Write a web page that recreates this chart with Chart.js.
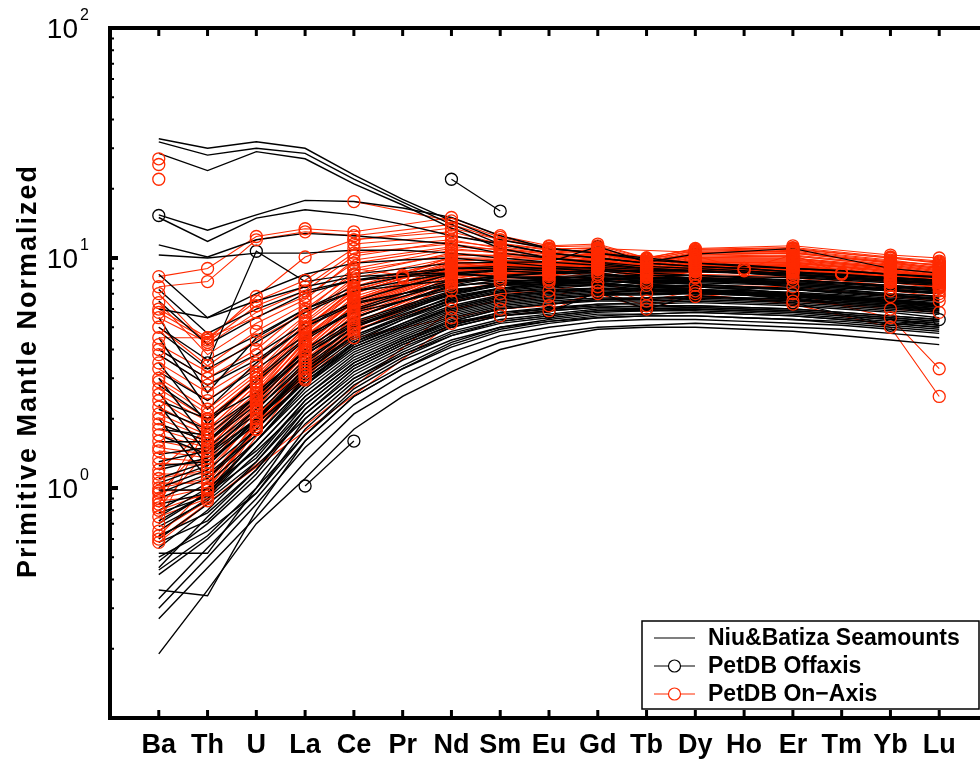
<!DOCTYPE html>
<html lang="en">
<head>
    <meta charset="UTF-8">
    <title>Primitive Mantle Normalized - Niu&amp;Batiza Seamounts vs PetDB</title>
    <script src="https://cdn.jsdelivr.net/npm/chart.js"></script>
    <style>
        html, body {
            margin: 0;
            padding: 0;
            background: #fff;
            overflow: hidden;
        }
        canvas { display: block; }
    </style>
</head>
<body>

<canvas id="spider" width="1000" height="763"></canvas>

<script>
    // element order along the x axis
    const elements = ['Ba', 'Th', 'U', 'La', 'Ce', 'Pr', 'Nd', 'Sm', 'Eu', 'Gd', 'Tb', 'Dy', 'Ho', 'Er', 'Tm', 'Yb', 'Lu'];
    const yTickValues = [1, 10, 100];
    const _ = null;

    // Niu & Batiza seamount samples (black lines, no markers)
    //            Ba    Th    U     La    Ce    Pr    Nd    Sm    Eu    Gd    Tb    Dy    Ho    Er    Tm    Yb    Lu
    const niuBatiza = [
        [33,   30,   32,   30,   23,   18,   14.5, 12,   11,   10.5, 10,   9.5,  9.3,  9,    8.8,  8.5,  8.3],
        [32,   28,   30,   28.5, 22,   17.5, 14,   11.5, 10.5, 10,   9.5,  9.2,  9,    8.7,  8.5,  8.2,  8],
        [28.5, 24,   29,   27,   21,   17,   13.5, 11,   10,   9.5,  9,    8.8,  8.6,  8.4,  8.2,  8,    7.8],
        [15.4, 13.2, 15.4, 17.8, 17.6, 16.5, 15,   12.5, 11,   10.5, 9.8,  9.5,  9.2,  9,    8.8,  8.5,  8.2],
        [15,   11.8, 14.9, 16.2, 15.4, 14,   12.5, 11.5, 10.5, 10,   9.5,  9.2,  9,    8.7,  8.4,  8.2,  8],
        [11.4, 10.1, 12,   12.8, 12.5, 12,   11.5, 10.5, 10,   9.6,  9.2,  9,    8.8,  8.5,  8.2,  8,    7.8],
        [10.3, 10,   10.5, 10.5, 10.8, 10.8, 10.5, 10,   9.6,  9.3,  9,    8.8,  8.6,  8.3,  8.1,  7.9,  7.7],
        [8.5,  5.5,  7,    8.5,  9.5,  9.8,  10,   9.6,  9.2,  9,    8.6,  8.4,  8.2,  8,    7.8,  7.5,  7.2],
        [6.5,  4.2,  5.5,  7,    8,    8.6,  9,    9,    8.8,  8.6,  8.2,  8,    7.8,  7.6,  7.4,  7.2,  7],
        [5.5,  2.6,  4.5,  6,    7.5,  8.3,  9,    9.2,  9,    8.8,  8.4,  8.2,  8,    7.8,  7.6,  7.3,  7],
        [4.8,  3.3,  4.3,  5.8,  7.2,  7.9,  8.6,  8.9,  9.0,  9.1,  8.9,  8.8,  8.6,  8.4,  8.2,  8.0,  7.7],
        [4.5,  2.2,  3.5,  5,    6.5,  7.5,  8.5,  8.8,  8.6,  8.5,  8.2,  8,    7.8,  7.5,  7.3,  7,    6.8],
        [3.5,  1.9,  3,    4.5,  6,    7,    8,    8.3,  8.2,  8.2,  7.9,  7.7,  7.5,  7.3,  7,    6.8,  6.6],
        [3.0,  1.6,  2.5,  4,    5.5,  6.5,  7.5,  8,    8,    8,    7.7,  7.5,  7.3,  7,    6.8,  6.5,  6.3],
        [2.6,  1.4,  2.2,  3.5,  5,    6,    7,    7.6,  7.7,  7.8,  7.5,  7.3,  7.1,  6.9,  6.7,  6.4,  6.2],
        [2.4,  2.0,  2.9,  4.4,  5.9,  6.8,  7.8,  8.4,  8.6,  8.8,  8.7,  8.7,  8.6,  8.5,  8.3,  8.1,  7.9],
        [2.3,  1.25, 2,    3.2,  4.6,  5.6,  6.8,  7.4,  7.6,  7.6,  7.3,  7.2,  7,    6.8,  6.5,  6.3,  6.1],
        [2.0,  1.1,  1.8,  2.9,  4.2,  5.2,  6.4,  7.1,  7.3,  7.4,  7.2,  7,    6.9,  6.7,  6.4,  6.2,  5.9],
        [1.8,  1.7,  2.5,  4.0,  5.5,  6.5,  7.6,  8.3,  8.6,  8.9,  8.8,  8.8,  8.7,  8.6,  8.4,  8.2,  8.0],
        [2.8,  2.0,  2.6,  3.9,  5.3,  6.2,  7.2,  7.7,  7.9,  8.0,  7.8,  7.7,  7.5,  7.3,  7.1,  6.9,  6.6],
        [3.2,  2.4,  3.3,  4.6,  5.8,  6.5,  7.3,  7.6,  7.7,  7.7,  7.5,  7.3,  7.1,  6.9,  6.7,  6.5,  6.2],
        [4.0,  3.0,  3.8,  5.2,  6.4,  7.0,  7.6,  7.8,  7.8,  7.8,  7.5,  7.3,  7.1,  6.9,  6.6,  6.4,  6.1],
        [5.0,  3.6,  4.6,  6.0,  7.2,  7.6,  8.0,  8.0,  7.9,  7.8,  7.5,  7.3,  7.0,  6.8,  6.5,  6.3,  6.0],
        [6.0,  5.5,  6.5,  7.5,  8.3,  8.5,  8.6,  8.3,  8.0,  7.8,  7.4,  7.1,  6.9,  6.6,  6.3,  6.1,  5.8],
        [7.3,  4.7,  6.0,  7.2,  8.0,  8.3,  8.5,  8.3,  8.1,  8.0,  7.7,  7.5,  7.3,  7.0,  6.8,  6.6,  6.3],
        [3.8,  2.8,  3.6,  5.0,  6.3,  7.0,  7.8,  8.2,  8.3,  8.4,  8.2,  8.1,  7.9,  7.7,  7.5,  7.3,  7.0],
        [2.2,  1.8,  2.5,  3.8,  5.1,  6.0,  7.0,  7.6,  7.9,  8.2,  8.1,  8.1,  8.0,  7.9,  7.7,  7.5,  7.3],
        [0.19, 0.36, 0.7,  1.1,  1.8,  2.5,  3.2,  4.0,  4.5,  4.9,  5.0,  5.0,  4.9,  4.8,  4.6,  4.4,  4.2],
        [0.27, 0.45, 0.75, 1.3,  2.1,  2.8,  3.6,  4.3,  4.7,  5.0,  5.1,  5.2,  5.1,  5.0,  4.9,  4.7,  4.5],
        [0.3,  0.5,  0.85, 1.5,  2.3,  3.1,  3.9,  4.6,  5.0,  5.3,  5.4,  5.4,  5.3,  5.2,  5.1,  4.9,  4.7],
        [0.33, 0.55, 0.9,  1.6,  2.5,  3.3,  4.2,  4.9,  5.3,  5.6,  5.7,  5.8,  5.7,  5.6,  5.4,  5.2,  5.0],
        [0.36, 0.34, 0.8,  1.6,  2.5,  3.3,  4.1,  4.8,  5.2,  5.5,  5.6,  5.6,  5.5,  5.4,  5.2,  5.0,  4.8],
        [0.42, 0.6,  0.95, 1.8,  2.8,  3.7,  4.6,  5.3,  5.6,  5.9,  6.0,  6.1,  6.0,  5.9,  5.7,  5.5,  5.3],
        [0.44, 0.62, 1.0,  1.7,  2.7,  3.6,  4.4,  5.0,  5.4,  5.7,  5.7,  5.8,  5.7,  5.6,  5.4,  5.2,  5.0],
        [0.48, 0.7,  1.1,  1.9,  2.9,  3.8,  4.6,  5.2,  5.5,  5.8,  5.9,  5.9,  5.8,  5.7,  5.5,  5.3,  5.1],
        [0.52, 0.52, 1.0,  2.0,  3.0,  3.9,  4.8,  5.4,  5.7,  6.0,  6.0,  6.1,  6.0,  5.9,  5.7,  5.5,  5.3],
        [0.45, 0.75, 1.2,  2.1,  3.1,  4.0,  5.0,  5.6,  5.9,  6.1,  6.2,  6.2,  6.1,  6.0,  5.8,  5.6,  5.4],
        [0.55, 0.8,  1.3,  2.2,  3.3,  4.2,  5.1,  5.8,  6.1,  6.3,  6.3,  6.4,  6.3,  6.2,  6.0,  5.8,  5.5],
        [0.6,  0.85, 1.25, 2.0,  3.0,  3.8,  4.7,  5.3,  5.6,  5.9,  5.9,  6.0,  5.9,  5.8,  5.6,  5.4,  5.2],
        [0.65, 0.9,  1.4,  2.4,  3.5,  4.4,  5.3,  6.0,  6.3,  6.5,  6.5,  6.6,  6.5,  6.4,  6.2,  6.0,  5.8],
        [0.68, 0.88, 1.3,  2.3,  3.4,  4.3,  5.3,  6.0,  6.3,  6.6,  6.7,  6.8,  6.7,  6.6,  6.4,  6.2,  6.0],
        [0.7,  0.95, 1.5,  2.5,  3.6,  4.5,  5.5,  6.2,  6.5,  6.7,  6.7,  6.8,  6.7,  6.6,  6.4,  6.2,  6.0],
        [0.72, 0.95, 1.6,  2.8,  4.3,  5.4,  6.6,  7.4,  7.8,  8.1,  8.1,  8.2,  8.1,  8.0,  7.8,  7.6,  7.4],
        [0.75, 1.0,  1.45, 2.3,  3.4,  4.3,  5.2,  5.8,  6.0,  6.2,  6.1,  6.2,  6.1,  6.0,  5.8,  5.6,  5.4],
        [0.78, 0.92, 1.5,  2.5,  3.7,  4.6,  5.6,  6.3,  6.6,  6.9,  7.0,  7.1,  7.0,  6.9,  6.7,  6.5,  6.3],
        [0.8,  1.05, 1.6,  2.6,  3.8,  4.7,  5.7,  6.4,  6.7,  6.9,  6.9,  7.0,  6.9,  6.8,  6.6,  6.4,  6.2],
        [0.9,  1.1,  1.7,  2.8,  4.0,  4.9,  5.9,  6.6,  6.9,  7.1,  7.0,  7.1,  7.0,  6.9,  6.7,  6.5,  6.3],
        [0.95, 1.15, 1.7,  2.8,  4.1,  5.0,  6.1,  6.8,  7.1,  7.4,  7.4,  7.5,  7.4,  7.3,  7.1,  6.9,  6.6],
        [0.98, 0.98, 1.6,  2.7,  3.9,  4.8,  5.8,  6.5,  6.8,  7.0,  7.0,  7.0,  6.9,  6.8,  6.6,  6.4,  6.2],
        [1.0,  1.2,  1.8,  3.0,  4.3,  5.2,  6.2,  6.9,  7.2,  7.4,  7.3,  7.3,  7.2,  7.1,  6.9,  6.7,  6.5],
        [1.05, 1.25, 2.0,  3.3,  4.8,  5.8,  7.0,  7.8,  8.1,  8.4,  8.4,  8.4,  8.3,  8.2,  8.0,  7.8,  7.6],
        [1.1,  1.3,  1.9,  2.9,  4.1,  5.0,  6.0,  6.7,  7.0,  7.2,  7.1,  7.2,  7.1,  7.0,  6.8,  6.5,  6.3],
        [1.2,  1.35, 2.0,  3.1,  4.4,  5.4,  6.4,  7.1,  7.4,  7.6,  7.5,  7.5,  7.4,  7.3,  7.1,  6.9,  6.7],
        [1.25, 1.3,  1.95, 3.2,  4.5,  5.5,  6.6,  7.3,  7.6,  7.9,  7.9,  7.9,  7.8,  7.7,  7.5,  7.3,  7.1],
        [1.3,  1.45, 2.1,  3.3,  4.6,  5.5,  6.5,  7.2,  7.5,  7.7,  7.6,  7.6,  7.5,  7.4,  7.2,  7.0,  6.8],
        [1.4,  1.5,  2.2,  3.4,  4.8,  5.7,  6.7,  7.4,  7.7,  7.9,  7.8,  7.8,  7.7,  7.6,  7.4,  7.2,  7.0],
        [1.59, 1.59, 2.3,  3.6,  5.0,  5.9,  6.9,  7.6,  7.9,  8.1,  8.0,  8.0,  7.9,  7.8,  7.6,  7.4,  7.2],
        [1.7,  1.4,  2.0,  3.0,  4.2,  5.1,  6.1,  6.8,  7.1,  7.3,  7.2,  7.2,  7.1,  7.0,  6.8,  6.6,  6.4],
        [1.9,  1.6,  2.4,  3.8,  5.2,  6.1,  7.1,  7.8,  8.1,  8.3,  8.2,  8.2,  8.1,  8.0,  7.8,  7.6,  7.3],
        [0.5,  0.65, 0.95, 1.7,  2.6,  3.4,  4.3,  5.0,  5.3,  5.5,  5.6,  5.6,  5.5,  5.4,  5.3,  5.1,  4.9],
        [0.58, 0.72, 1.15, 2.1,  3.2,  4.1,  5.0,  5.6,  5.9,  6.1,  6.0,  6.0,  5.9,  5.8,  5.6,  5.4,  5.1],
        [0.62, 0.78, 1.2,  2.2,  3.3,  4.2,  5.1,  5.7,  6.0,  6.3,  6.4,  6.5,  6.4,  6.3,  6.1,  5.9,  5.7],
        [0.85, 0.95, 1.35, 2.4,  3.5,  4.4,  5.4,  6.1,  6.4,  6.6,  6.6,  6.7,  6.6,  6.5,  6.3,  6.1,  5.9]
    ];

    // PetDB off-axis samples (black circles)
    const offAxis = [
        [_,    _,    _,    _,    _,    _,    22,   16,   _,    _,    _,    _,    _,    _,    _,    _,    _],
        [_,    _,    _,    1.02, 1.6,  _,    _,    _,    _,    _,    _,    _,    _,    _,    _,    _,    _],
        [15.3, _,    _,    _,    _,    _,    _,    _,    _,    _,    _,    _,    _,    _,    _,    _,    _],
        [_,    3.5,  10.7, 7.9,  8.5,  _,    9.5,  9.6,  9.6,  11.2, 9.6,  10.4, _,    11.0, _,    9.0,  8.6],
        [_,    _,    _,    _,    _,    _,    5.3,  5.6,  5.8,  7.1,  6.0,  6.9,  _,    6.4,  _,    5.1,  5.4]
    ];

    // PetDB on-axis samples (red circles)
    const onAxis = [
        [27,   _,    _,    _,    _,    _,    _,    _,    _,    _,    _,    _,    _,    _,    _,    _,    _],
        [25.5, _,    _,    _,    _,    _,    _,    _,    _,    _,    _,    _,    _,    _,    _,    _,    _],
        [22,   _,    _,    _,    _,    _,    _,    _,    _,    _,    _,    _,    _,    _,    _,    _,    _],
        [8.3,  9.0,  12.4, 13.4, 13.0, _,    15,   12.5, 11.3, 11.5, 10,   11,   _,    11.3, _,    10.3, 10.0],
        [7.5,  7.9,  12.0, 13.0, 12.5, _,    14,   12,   11,   11,   9.8,  10.8, _,    11,   _,    10,   9.5],
        [5.8,  4.4,  6.8,  10.1, 12,   _,    13,   11.5, 10.8, 10.8, 9.6,  10.5, _,    10.8, _,    9.8,  9.2],
        [_,    _,    _,    _,    17.6, _,    14.5, 12.3, 11,   11,   _,    10.6, _,    10.6, _,    9.6,  9.4],
        [7.0,  4.2,  5.8,  7.2,  10.2, _,    11.8, 11.2, 10.6, 10.9, 9.7,  10.6, _,    10.7, _,    9.7,  9.3],
        [6.4,  3.8,  5.2,  6.6,  9.8,  _,    11.2, 10.9, 10.4, 10.7, 9.6,  10.4, _,    10.5, _,    9.6,  9.1],
        [6.0,  4.5,  6.5,  8.0,  11.0, _,    12.0, 11.0, 10.5, 10.8, 9.5,  10.3, _,    10.5, _,    9.5,  9.0],
        [5.5,  4.3,  6.2,  7.5,  10.5, _,    11.5, 10.8, 10.2, 10.5, 9.4,  10.0, _,    10.2, _,    9.3,  8.8],
        [5.0,  3.4,  4.8,  6.3,  9.0,  _,    10.8, 10.6, 10.1, 10.5, 9.5,  10.2, _,    10.3, _,    9.4,  8.9],
        [4.5,  4.5,  _,    6.8,  9.5,  _,    11,   10.5, 10,   10.4, _,    10,   _,    10,   _,    9.0,  8.5],
        [4.2,  3.2,  4.4,  5.8,  8.8,  _,    10.3, 10.2, 9.9,  10.4, 9.4,  10.1, _,    10.2, _,    9.3,  8.8],
        [4.0,  3.0,  4.0,  6.0,  8.5,  _,    10.5, 10.2, 9.8,  10.2, 9.2,  9.8,  _,    9.8,  _,    9.0,  8.6],
        [3.8,  2.8,  3.8,  5.6,  8.2,  _,    10.0, 10.0, 9.8,  10.3, 9.3,  10.0, _,    10.0, _,    9.2,  8.7],
        [3.5,  2.6,  3.5,  5.5,  8.0,  8.3,  9.0,  9.5,  9.5,  10,   9.0,  9.6,  9.0,  9.5,  8.6,  8.7,  8.3],
        [3.3,  2.4,  3.4,  5.3,  7.8,  _,    9.7,  9.8,  9.6,  10.1, 9.2,  9.9,  _,    9.9,  _,    9.1,  8.6],
        [3.0,  2.2,  3.2,  5.2,  7.5,  _,    10,   9.8,  9.5,  10,   9.0,  9.6,  _,    9.6,  _,    8.8,  8.4],
        [2.9,  2.1,  3.1,  5.0,  7.3,  _,    9.4,  9.6,  9.5,  10.0, 9.1,  9.8,  _,    9.8,  _,    9.0,  8.5],
        [2.7,  2.0,  3.0,  5.0,  7.0,  8.2,  8.8,  9.3,  9.3,  9.8,  8.9,  9.5,  8.8,  9.4,  8.5,  8.6,  8.2],
        [2.55, 1.95, 2.9,  4.7,  7.1,  _,    9.3,  9.5,  9.4,  9.9,  9.0,  9.7,  _,    9.7,  _,    8.9,  8.4],
        [2.4,  1.8,  2.8,  4.8,  7.0,  _,    9.5,  9.5,  9.2,  9.7,  8.8,  9.4,  _,    9.3,  _,    8.5,  8.0],
        [2.25, 1.75, 2.7,  4.5,  6.8,  _,    9.1,  9.4,  9.3,  9.8,  8.9,  9.6,  _,    9.6,  _,    8.8,  8.3],
        [2.1,  1.7,  2.6,  4.6,  6.6,  _,    9.2,  9.3,  9.0,  9.5,  8.7,  9.2,  _,    9.2,  _,    8.4,  8.0],
        [2.0,  1.65, 2.55, 4.3,  6.5,  _,    9.0,  9.3,  9.2,  9.7,  8.9,  9.5,  _,    9.5,  _,    8.7,  8.2],
        [1.9,  1.6,  2.5,  4.4,  6.4,  _,    9.0,  9.2,  9.0,  9.4,  8.6,  9.1,  _,    9.0,  _,    8.3,  7.8],
        [1.8,  1.55, 2.45, 4.1,  6.3,  _,    8.9,  9.2,  9.1,  9.6,  8.8,  9.4,  _,    9.4,  _,    8.6,  8.2],
        [1.7,  1.5,  2.4,  4.2,  6.2,  _,    8.8,  9.0,  8.8,  9.3,  8.5,  9.0,  _,    8.9,  _,    8.2,  7.8],
        [1.6,  1.45, 2.35, 4.0,  6.1,  _,    8.7,  9.1,  9.0,  9.5,  8.8,  9.3,  _,    9.3,  _,    8.5,  8.1],
        [1.5,  1.4,  2.3,  4.0,  6.0,  _,    8.6,  8.8,  8.6,  9.2,  8.4,  8.9,  _,    8.8,  _,    8.0,  7.6],
        [1.45, 1.35, 2.25, 3.8,  5.9,  _,    8.6,  9.0,  8.9,  9.4,  8.7,  9.2,  _,    9.2,  _,    8.4,  8.0],
        [1.35, 1.3,  2.2,  3.9,  5.8,  _,    8.4,  8.6,  8.5,  9.0,  8.3,  8.8,  _,    8.6,  _,    7.9,  7.5],
        [1.28, 1.25, 2.15, 3.7,  5.7,  _,    8.5,  8.9,  8.8,  9.3,  8.6,  9.1,  _,    9.1,  _,    8.3,  7.9],
        [1.2,  1.8,  2.8,  4.5,  6.5,  _,    9.0,  9.0,  8.8,  9.3,  _,    9.0,  _,    9.0,  _,    8.3,  7.9],
        [1.15, 1.15, 2.05, 3.5,  5.4,  _,    8.3,  8.8,  8.7,  9.2,  8.6,  9.0,  _,    9.0,  _,    8.2,  7.8],
        [1.1,  1.2,  2.0,  3.6,  5.5,  _,    8.0,  8.4,  8.3,  8.9,  8.2,  8.7,  _,    8.5,  _,    7.8,  7.4],
        [1.05, 1.05, 1.95, 3.3,  5.1,  _,    8.1,  8.7,  8.6,  9.1,  8.5,  8.9,  _,    8.9,  _,    8.1,  7.7],
        [1.0,  1.1,  1.9,  3.4,  5.2,  _,    7.8,  8.2,  8.1,  8.7,  8.0,  8.5,  _,    8.3,  _,    7.6,  7.2],
        [0.97, 0.98, 1.85, 3.2,  4.9,  _,    7.9,  8.6,  8.5,  9.0,  8.5,  8.8,  _,    8.8,  _,    8.0,  7.6],
        [0.95, 1.6,  2.4,  4.2,  6.2,  _,    8.8,  8.8,  8.6,  9.1,  _,    8.8,  _,    8.8,  _,    8.0,  7.5],
        [0.9,  1.0,  1.8,  3.2,  5.0,  _,    7.5,  8.0,  8.0,  8.5,  7.8,  8.3,  _,    8.2,  _,    7.4,  7.0],
        [0.88, 0.92, 1.9,  3.1,  4.7,  _,    7.7,  8.5,  8.4,  8.9,  8.4,  8.7,  _,    8.7,  _,    7.9,  7.5],
        [0.85, 2.0,  3.0,  5.0,  7.2,  _,    9.6,  9.5,  9.2,  9.6,  _,    9.3,  _,    9.3,  _,    8.5,  8.1],
        [0.82, 1.45, 2.6,  4.3,  6.6,  _,    9.2,  9.3,  9.1,  9.5,  _,    9.3,  _,    9.2,  _,    8.5,  8.0],
        [0.8,  0.95, 1.8,  3.0,  4.8,  _,    7.2,  7.8,  7.8,  8.3,  7.6,  8.2,  _,    8.0,  _,    7.2,  6.8],
        [0.75, 0.9,  _,    3.1,  4.9,  _,    6.5,  7.0,  7.2,  7.8,  7.0,  7.6,  _,    7.5,  _,    6.8,  6.5],
        [0.7,  1.9,  2.9,  4.9,  7.4,  _,    9.8,  9.7,  9.4,  9.8,  _,    9.6,  _,    9.5,  _,    8.8,  8.3],
        [0.65, 0.88, 1.8,  2.95, 4.5,  _,    5.5,  6.0,  6.2,  7.0,  6.0,  6.8,  _,    6.5,  _,    6.0,  5.8],
        [0.62, 1.0,  2.0,  3.5,  5.6,  _,    8.2,  8.6,  8.5,  9.0,  8.3,  8.8,  _,    8.7,  _,    7.9,  7.4],
        [0.6,  _,    _,    _,    _,    _,    5.2,  5.6,  5.9,  7.2,  6.2,  7.0,  _,    6.3,  _,    5.0,  2.5],
        [0.58, _,    _,    _,    _,    _,    6.0,  6.5,  6.8,  7.5,  6.5,  7.2,  _,    7.0,  _,    5.5,  3.3],
        [_,    _,    _,    _,    12.0, _,    13.5, 12.0, 11.2, 11.3, 10.0, 10.9, _,    11.1, _,    10.1, 9.7],
        [_,    _,    _,    _,    11.5, _,    12.5, 11.6, 10.9, 11.1, 9.9,  10.7, _,    10.9, _,    10.0, 9.6],
        [_,    _,    _,    _,    9.0,  8.4,  10.2, 10.3, 10.0, 10.5, 9.6,  10.2, 9.0,  10.3, 8.6,  9.5,  9.0]
    ];

    const RED = '#ff2a00';
    const FONT = '"Liberation Sans", Arial, Helvetica, sans-serif';

    function toPoints(row) {
        return row.map((v, i) => ({ x: i, y: v }));
    }

    // drawing order: red lines at the bottom, black seamount lines over them,
    // then the off-axis samples and finally the red circles on top
    const datasets = [];
    onAxis.forEach(row => datasets.push({
        label: 'PetDB On-Axis',
        data: toPoints(row),
        borderColor: RED,
        borderWidth: 1.1,
        pointRadius: 0,
        spanGaps: true,
        order: 3
    }));
    niuBatiza.forEach(row => datasets.push({
        label: 'Niu&Batiza Seamounts',
        data: toPoints(row),
        borderColor: '#000',
        borderWidth: 1.4,
        pointRadius: 0,
        spanGaps: true,
        order: 2
    }));
    offAxis.forEach(row => datasets.push({
        label: 'PetDB Offaxis',
        data: toPoints(row),
        borderColor: '#000',
        borderWidth: 1.2,
        pointRadius: 6,
        pointBorderColor: '#000',
        pointBackgroundColor: 'rgba(0,0,0,0)',
        pointBorderWidth: 1.3,
        spanGaps: true,
        order: 1
    }));
    onAxis.forEach(row => datasets.push({
        label: 'PetDB On-Axis',
        data: toPoints(row),
        showLine: false,
        pointRadius: 6,
        pointBorderColor: RED,
        pointBackgroundColor: 'rgba(0,0,0,0)',
        pointBorderWidth: 1.3,
        order: 0
    }));

    // frame, inward ticks, log tick labels, y title and the boxed legend
    const decorations = {
        id: 'decorations',
        afterDraw(chart) {
            const ctx = chart.ctx;
            const a = chart.chartArea;
            const xs = chart.scales.x;
            const ys = chart.scales.y;
            ctx.save();

            // ticks on top and bottom
            ctx.strokeStyle = '#000';
            ctx.lineWidth = 3;
            elements.forEach((el, i) => {
                const px = xs.getPixelForValue(i);
                ctx.beginPath();
                ctx.moveTo(px, a.top); ctx.lineTo(px, a.top + 8);
                ctx.moveTo(px, a.bottom); ctx.lineTo(px, a.bottom - 8);
                ctx.stroke();
            });

            // log ticks left and right
            for (let dec = 0.1; dec < 100; dec *= 10) {
                for (let m = 1; m <= 9; m++) {
                    const v = dec * m;
                    if (v <= 0.1 + 1e-9) continue;
                    const py = ys.getPixelForValue(v);
                    const major = m === 1;
                    const len = major ? 8 : 4;
                    ctx.lineWidth = major ? 4 : 2;
                    ctx.beginPath();
                    ctx.moveTo(a.left, py); ctx.lineTo(a.left + len, py);
                    ctx.moveTo(a.right, py); ctx.lineTo(a.right - len, py);
                    ctx.stroke();
                }
            }

            // frame
            ctx.lineWidth = 4;
            ctx.strokeRect(a.left, a.top, a.right - a.left, a.bottom - a.top);

            // y tick labels 10^n
            ctx.fillStyle = '#000';
            yTickValues.forEach(v => {
                const py = ys.getPixelForValue(v);
                ctx.font = '28px ' + FONT;
                ctx.textAlign = 'right';
                ctx.textBaseline = 'middle';
                ctx.fillText('10', 78, py + 2);
                ctx.font = '16px ' + FONT;
                ctx.textAlign = 'left';
                ctx.fillText(String(Math.round(Math.log10(v))), 80, py - 12);
            });

            // y axis title
            ctx.save();
            ctx.translate(36, 371);
            ctx.rotate(-Math.PI / 2);
            ctx.font = 'bold 27px ' + FONT;
            ctx.letterSpacing = '2px';
            ctx.textAlign = 'center';
            ctx.textBaseline = 'alphabetic';
            ctx.fillText('Primitive Mantle Normalized', 0, 0);
            ctx.restore();

            // legend box
            const lx = 642, ly = 621, lw = 337, lh = 88;
            ctx.fillStyle = '#fff';
            ctx.fillRect(lx, ly, lw, lh);
            ctx.lineWidth = 1.5;
            ctx.strokeStyle = '#000';
            ctx.strokeRect(lx, ly, lw, lh);
            const items = [
                { text: 'Niu&Batiza Seamounts', color: '#000', marker: false },
                { text: 'PetDB Offaxis', color: '#000', marker: true },
                { text: 'PetDB On\u2212Axis', color: RED, marker: true }
            ];
            items.forEach((it, k) => {
                const cy = 638 + k * 28;
                ctx.strokeStyle = it.color;
                ctx.lineWidth = 1.2;
                ctx.beginPath();
                ctx.moveTo(654, cy); ctx.lineTo(695, cy);
                ctx.stroke();
                if (it.marker) {
                    ctx.fillStyle = '#fff';
                    ctx.beginPath();
                    ctx.arc(674.5, cy, 6, 0, Math.PI * 2);
                    ctx.fill();
                    ctx.stroke();
                }
                ctx.fillStyle = '#000';
                ctx.font = 'bold 23px ' + FONT;
                ctx.textAlign = 'left';
                ctx.textBaseline = 'middle';
                ctx.fillText(it.text, 708, cy + 1);
            });

            ctx.restore();
        }
    };

    new Chart(document.getElementById('spider').getContext('2d'), {
        type: 'line',
        data: { datasets: datasets },
        options: {
            responsive: false,
            animation: false,
            devicePixelRatio: 1,
            layout: { padding: { top: 28, right: 12, left: 0, bottom: 0 } },
            elements: { line: { tension: 0 } },
            plugins: {
                legend: { display: false },
                tooltip: { enabled: false }
            },
            scales: {
                x: {
                    type: 'linear',
                    min: -1,
                    max: 17,
                    grid: { display: false, drawTicks: false },
                    border: { display: false },
                    ticks: {
                        stepSize: 1,
                        autoSkip: false,
                        maxRotation: 0,
                        padding: 11,
                        color: '#000',
                        font: { family: FONT, size: 27, weight: 'bold' },
                        callback: v => elements[v] || ''
                    },
                    afterFit: s => { s.height = 45; }
                },
                y: {
                    type: 'logarithmic',
                    min: 0.1,
                    max: 100,
                    grid: { display: false, drawTicks: false },
                    border: { display: false },
                    ticks: { display: false },
                    afterFit: s => { s.width = 110; }
                }
            }
        },
        plugins: [decorations]
    });
</script>

</body>
</html>
